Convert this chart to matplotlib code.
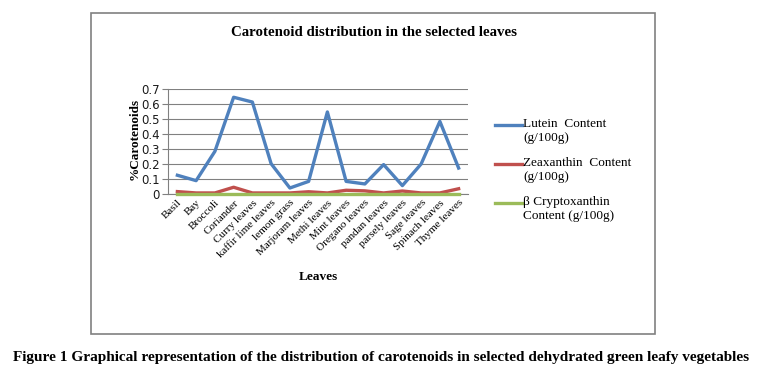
import matplotlib
matplotlib.use("Agg")
import matplotlib.pyplot as plt
from matplotlib.lines import Line2D
from matplotlib.patches import Rectangle

categories = ["Basil", "Bay", "Broccoli", "Coriander", "Curry leaves", "kaffir lime leaves",
              "lemon grass", "Marjoram leaves", "Methi leaves", "Mint leaves", "Oregano leaves",
              "pandan leaves", "parsely leaves", "Sage leaves", "Spinach leaves", "Thyme leaves"]
lutein = [0.125, 0.089, 0.284, 0.645, 0.613, 0.202, 0.040, 0.084, 0.547, 0.084, 0.067,
          0.196, 0.056, 0.200, 0.484, 0.173]
zeaxanthin = [0.016, 0.007, 0.007, 0.045, 0.007, 0.007, 0.007, 0.015, 0.007, 0.025, 0.021,
              0.007, 0.020, 0.007, 0.007, 0.035]
cryptoxanthin = [0.0] * 16
yticks = [0, 0.1, 0.2, 0.3, 0.4, 0.5, 0.6, 0.7]
ytick_labels = ["0", "0.1", "0.2", "0.3", "0.4", "0.5", "0.6", "0.7"]
series_labels = ["Lutein  Content\n(g/100g)", "Zeaxanthin  Content\n(g/100g)",
                 "\u03b2 Cryptoxanthin\nContent (g/100g)"]
colors = ["#4F81BD", "#C0504D", "#9BBB59"]

W, H = 765, 384
fig = plt.figure(figsize=(W / 100, H / 100), dpi=100)
serif = "Liberation Serif"

# chart frame
fig.patches.append(Rectangle((91 / W, 1 - 334 / H), (655 - 91) / W, (334 - 13) / H,
                             transform=fig.transFigure, fill=False, edgecolor="#808080", lw=1.2))

ax = fig.add_axes([168 / W, 1 - 194 / H, 300 / W, 105 / H])
x = list(range(len(categories)))
series = [lutein, zeaxanthin, cryptoxanthin]
for vals, c in zip(series, colors):
    ax.plot(x, vals, color=c, lw=2.4, solid_joinstyle="round", clip_on=False, zorder=3)

ax.set_xlim(-0.5, len(categories) - 0.5)
ax.set_ylim(0, 0.7)
ax.set_yticks(yticks)
ax.set_yticklabels(ytick_labels, fontsize=8.5, family="DejaVu Sans", color="#1a1a1a")
ax.set_xticks(x)
ax.set_xticklabels(categories, rotation=45, ha="right", rotation_mode="anchor",
                   fontsize=8, family=serif)
ax.tick_params(axis="x", length=0, pad=3)
ax.tick_params(axis="y", length=4, color="#808080", width=0.8, pad=2)
ax.grid(axis="y", color="#808080", lw=0.8)
ax.set_axisbelow(True)
for s in ["top", "right"]:
    ax.spines[s].set_visible(False)
for s in ["left", "bottom"]:
    ax.spines[s].set_color("#808080")
    ax.spines[s].set_linewidth(0.8)
    ax.spines[s].set_zorder(1)

# title and labels
fig.text(374 / W, 1 - 33 / H, "Carotenoid distribution in the selected leaves", ha="center",
         va="center", fontsize=10.7, fontweight="bold", family=serif)
fig.text(135 / W, 1 - 139 / H, "%Carotenoids", rotation=90, ha="center", va="center",
         fontsize=9.5, fontweight="bold", family=serif)
fig.text(318 / W, 1 - 277 / H, "Leaves", ha="center", va="center",
         fontsize=9.5, fontweight="bold", family=serif)

# legend
leg_y = [125, 164, 203]
for lab, c, yy in zip(series_labels, colors, leg_y):
    fig.lines.append(Line2D([495 / W, 522 / W], [1 - yy / H, 1 - yy / H], color=c, lw=2.4,
                            transform=fig.transFigure))
    fig.text(523 / W, 1 - (yy - 7) / H, lab, ha="left", va="top", fontsize=9.5,
             family=serif, linespacing=1.25)

# caption
fig.text(381 / W, 1 - 358 / H,
         "Figure 1 Graphical representation of the distribution of carotenoids in selected dehydrated green leafy vegetables",
         ha="center", va="center", fontsize=11.0, fontweight="bold", family=serif)

fig.savefig("out.png", dpi=100)
